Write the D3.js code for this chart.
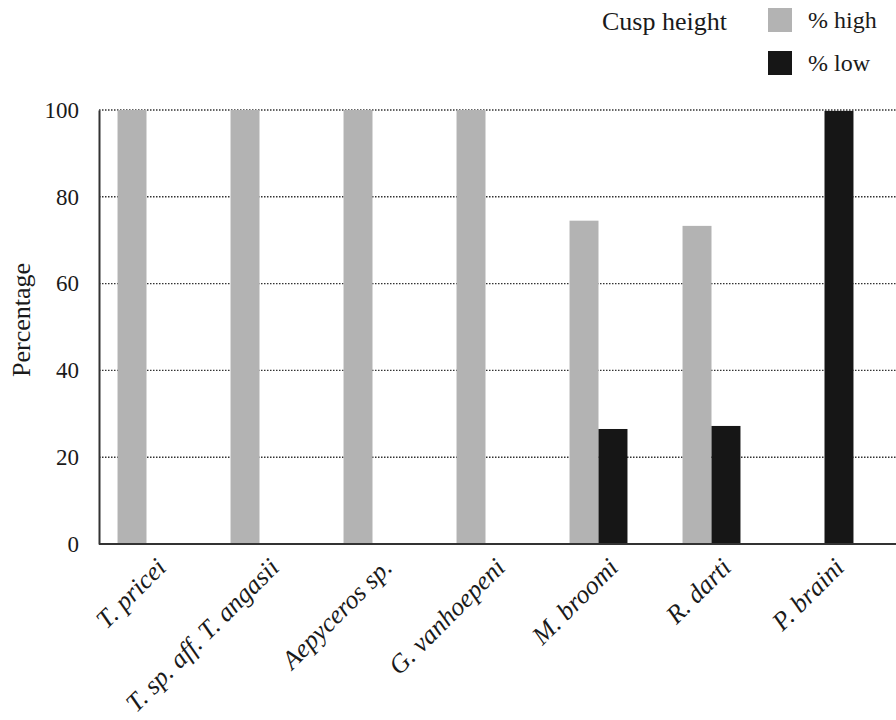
<!DOCTYPE html>
<html>
<head>
<meta charset="utf-8">
<script src="https://d3js.org/d3.v7.min.js"></script>
<style>
  body { margin: 0; background: #fff; }
  text { font-family: "Liberation Serif", "Times New Roman", serif; fill: #1a1a1a; }
</style>
</head>
<body>
<div id="chart"></div>
<script>
// data
const species = ["T. pricei", "T. sp. aff. T. angasii", "Aepyceros sp.", "G. vanhoepeni", "M. broomi", "R. darti", "P. braini"];
const pctHigh = [100, 100, 100, 100, 74.5, 73.3, 0];
const pctLow = [0, 0, 0, 0, 26.5, 27.2, 99.8];
const seriesNames = ["% high", "% low"];
const yTicks = [0, 20, 40, 60, 80, 100];

let colors = ["#b3b3b3", "#161616"];

let width = 896, height = 720;
let plotLeft = 99, plotRight = 896, plotTop = 110, plotBottom = 544;

let svg = d3.select("#chart")
  .append("svg")
    .attr("width", width)
    .attr("height", height);

let rows = species.map(function(s, i) { return {name: s, values: [pctHigh[i], pctLow[i]]}; });

// Scales
let x0 = d3.scaleBand()
  .domain(species)
  .range([90, 881])
  .padding(0);
let x1 = d3.scaleBand()
  .domain([0, 1])
  .range([0, x0.bandwidth()])
  .paddingInner(0)
  .paddingOuter(0.95);
let y = d3.scaleLinear()
  .domain([0, 100])
  .range([plotBottom, plotTop]);

// dotted gridlines
svg.append("g")
  .selectAll("line")
  .data(yTicks.filter(function(d) { return d > 0; }))
  .enter()
  .append("line")
    .attr("x1", plotLeft)
    .attr("x2", plotRight)
    .attr("y1", function(d) { return y(d); })
    .attr("y2", function(d) { return y(d); })
    .attr("stroke", "#333")
    .attr("stroke-width", 1.4)
    .attr("stroke-dasharray", "1.5,1.5");

// bars
svg.append("g")
  .selectAll("g")
  .data(rows)
  .enter()
  .append("g")
    .attr("transform", function(d) { return "translate(" + x0(d.name) + ",0)"; })
  .selectAll("rect")
  .data(function(d) { return d.values.map(function(v, k) { return {k: k, v: v}; }); })
  .enter()
  .filter(function(d) { return d.v > 0; })
  .append("rect")
    .attr("x", function(d) { return x1(d.k); })
    .attr("width", x1.bandwidth())
    .attr("y", function(d) { return y(d.v); })
    .attr("height", function(d) { return y(0) - y(d.v); })
    .attr("fill", function(d) { return colors[d.k]; });

// axes lines
let yAxis = d3.axisLeft(y).tickValues(yTicks).tickSize(0).tickPadding(20);
svg.append("g")
  .attr("transform", "translate(" + plotLeft + ",0)")
  .call(yAxis)
  .call(function(g) {
    g.attr("font-family", null).attr("font-size", null);
    g.select(".domain").attr("stroke", "#333").attr("stroke-width", 2);
    g.selectAll("text")
      .style("font-size", "23px")
      .style("font-family", "'Liberation Serif', serif")
      .attr("fill", "#1a1a1a");
  });

svg.append("line")
  .attr("x1", plotLeft)
  .attr("x2", plotRight)
  .attr("y1", y(0))
  .attr("y2", y(0))
  .attr("stroke", "#333")
  .attr("stroke-width", 2);

// category labels, rotated
svg.append("g")
  .selectAll("text")
  .data(species)
  .enter()
  .append("text")
    .attr("transform", function(d) { return "translate(" + (x0(d) + x0.bandwidth() / 2 + 8) + "," + (y(0) + 12) + ") rotate(-45)"; })
    .attr("text-anchor", "end")
    .attr("dy", "0.71em")
    .style("font-size", "26px")
    .style("font-style", "italic")
    .text(function(d) { return d; });

// y title
svg.append("text")
  .attr("transform", "translate(30,320) rotate(-90)")
  .attr("text-anchor", "middle")
  .style("font-size", "26px")
  .text("Percentage");

// legend
svg.append("text")
  .attr("x", 602)
  .attr("y", 30)
  .style("font-size", "26px")
  .text("Cusp height");

let legend = svg.append("g")
  .selectAll("g")
  .data(seriesNames)
  .enter()
  .append("g")
    .attr("transform", function(d, i) { return "translate(768," + (8 + i * 43) + ")"; });
legend.append("rect")
  .attr("width", 24)
  .attr("height", 24)
  .attr("fill", function(d, i) { return colors[i]; });
legend.append("text")
  .attr("x", 40)
  .attr("y", 20)
  .style("font-size", "24px")
  .text(function(d) { return d; });
</script>
</body>
</html>
